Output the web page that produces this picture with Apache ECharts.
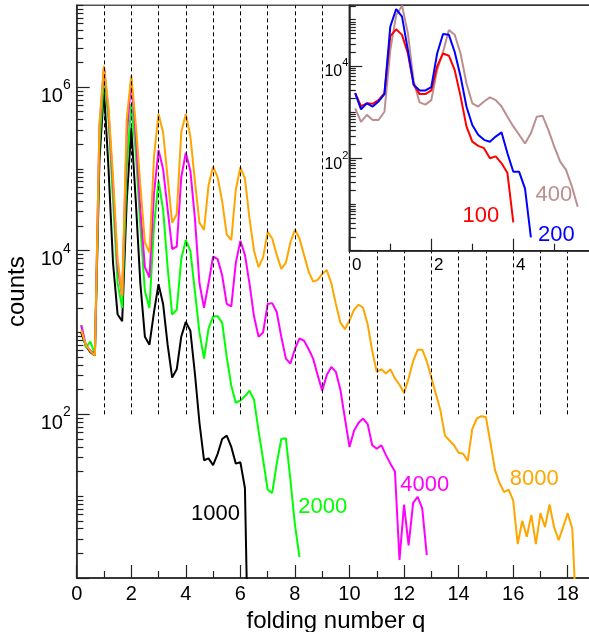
<!DOCTYPE html>
<html><head><meta charset="utf-8">
<script src="https://cdn.jsdelivr.net/npm/echarts@6/dist/echarts.min.js"></script>
<style>html,body{margin:0;padding:0;background:#fff}#c{width:589px;height:632px}</style>
</head><body><div id="c"></div>
<script>
// ---- main panel: folding number q (bins of 1/6) ----
const qMain = [
0.167,0.333,0.5,0.667,0.833,1,
1.167,1.333,1.5,1.667,1.833,2,
2.167,2.333,2.5,2.667,2.833,3,
3.167,3.333,3.5,3.667,3.833,4,
4.167,4.333,4.5,4.667,4.833,5,
5.167,5.333,5.5,5.667,5.833,6,
6.167,6.333,6.5,6.667,6.833,7,
7.167,7.333,7.5,7.667,7.833,8,
8.167,8.333,8.5,8.667,8.833,9,
9.167,9.333,9.5,9.667,9.833,10,
10.167,10.333,10.5,10.667,10.833,11,
11.167,11.333,11.5,11.667,11.833,12,
12.167,12.333,12.5,12.667,12.833,13,
13.167,13.333,13.5,13.667,13.833,14,
14.167,14.333,14.5,14.667,14.833,15,
15.167,15.333,15.5,15.667,15.833,16,
16.167,16.333,16.5,16.667,16.833,17,
17.167,17.333,17.5,17.667,17.833,18,
18.167,18.333];

const counts1000 = [1000,690,575,525,1.26e5,9.3e5,1.0e5,7000,1660,1380,4.0e4,3.2e5,
4.0e4,4000,890,710,1780,3900,2240,710,282,355,890,1350,
1050,316,79,27.5,29,24,33,50,55,40,25,26,12.6,0.016];

const counts2000 = [1230,660,776,550,2.0e5,1.32e6,4.0e5,4.0e4,4000,2000,1.0e5,6.2e5,
1.58e5,2.0e4,3200,2000,2.0e4,7.1e4,3.2e4,6300,1660,1900,7900,1.35e4,
1.0e4,3200,1000,480,1120,1580,1580,1320,500,224,138,148,
166,195,151,63,28,12,11,25,50,51,16,4.5,1.8];

const counts4000 = [1230,710,600,550,3.2e5,1.78e6,5.0e5,6.3e4,6300,2800,2.5e5,1.26e6,
2.5e5,3.2e4,6300,4700,5.0e4,1.7e5,1.0e5,3.2e4,1.05e4,1.12e4,7.9e4,1.58e5,
9.5e4,2.5e4,4000,2000,4000,8500,7900,5000,2240,2090,7100,1.32e4,
8900,4000,1580,890,1000,2240,2290,1780,890,480,417,630,
850,794,630,480,302,195,302,380,331,200,89,40,
63,79,89,76,42,38,42,32,25,20,1.66,7.9,
2.5,8.3,9.8,7.1,1.9];

const counts8000 = [1070,710,590,525,3.5e5,1.82e6,5.6e5,7.9e4,7900,2800,4.0e5,1.38e6,
3.5e5,6.3e4,1.26e4,9500,1.41e5,4.7e5,2.8e5,7.9e4,2.2e4,2.8e4,2.8e5,4.7e5,
2.5e5,7.1e4,2.2e4,1.8e4,6.3e4,1.07e5,7.9e4,4.0e4,1.58e4,1.35e4,5.6e4,1.05e5,
7.6e4,2.5e4,1.0e4,6300,8300,1.7e4,1.41e4,8900,6000,7100,1.26e4,1.82e4,
1.41e4,8900,5600,4200,4400,5200,5800,4000,2240,1320,1100,1410,
1900,2190,2000,1260,600,330,355,316,355,275,230,182,
275,447,617,617,447,282,178,112,55,48,42,34,
33,27,66,89,95,93,45,21,14.5,11.2,12,8.9,
2.6,5.0,3.2,5.9,2.6,6.2,4.2,7.9,4.2,2.9,4.2,6.2,
4.0,0.25];

// ---- inset: bins of 1/7 ----
const qInset = [0.143,0.286,0.429,0.571,0.714,0.857,1,
1.143,1.286,1.429,1.571,1.714,1.857,2,
2.143,2.286,2.429,2.571,2.714,2.857,3,
3.143,3.286,3.429,3.571,3.714,3.857,4,
4.143,4.286,4.429,4.571,4.714,4.857,5,
5.143,5.286,5.429,5.571];

const counts100 = [2570,1350,1550,1510,1820,2570,4.4e4,6.2e4,4.7e4,1.86e4,3900,2450,
2450,2950,9800,1.86e4,1.66e4,8100,2190,490,229,186,166,100,110,78,48,4.1];

const counts200 = [2570,1150,1550,1320,1700,2450,7.1e4,1.7e5,1.17e5,2.2e4,3900,2950,
2950,3470,1.86e4,4.9e4,4.7e4,2.0e4,5900,1320,525,324,251,229,295,363,129,51,51,22,1.95];

const counts400 = [1200,617,871,676,676,1020,2.2e4,1.26e5,2.0e5,5.1e4,4600,1620,
1450,1820,8100,2.0e4,6.0e4,4.7e4,1.86e4,4200,1550,1320,1700,2090,1820,1320,794,490,
324,209,347,794,832,407,178,85,56,24.5,8.9];

// ---- ticks & reference lines ----
const dashQMain = [1,2,3,4,5,6,7,8,9,10,11,12,13,14,15,16,17,18];
const dashQInset = [1,2,3,4,5];
const xMajorMain = [0,2,4,6,8,10,12,14,16,18];
const xMinorMain = [1,3,5,7,9,11,13,15,17];
const yMajorMain = [1,1e2,1e4,1e6];
const yLabelMain = [1e2,1e4,1e6];
const xMajorInset = [0,2,4];
const xMinorInset = [1,3,5];
const yMajorInset = [1,1e2,1e4];
const yLabelInset = [1e2,1e4];

function minorLog(maxExp, maxVal, majors) {
  const out = [];
  for (let e = 0; e <= maxExp; e++) {
    for (let m = 1; m <= 9; m++) {
      const v = m * Math.pow(10, e);
      if (v <= maxVal && majors.indexOf(v) < 0) out.push(v);
    }
  }
  return out;
}
const yMinorMain = minorLog(7, 1e7, yMajorMain);
const yMinorInset = minorLog(5, 2.05e5, yMajorInset);

const F = 'Liberation Sans, Arial, sans-serif';
function pairs(xs, ys) { return ys.map((y, i) => [xs[i], y]); }
function supFmt(v) { return '{b|10}{s|' + Math.round(Math.log10(v)) + '}'; }

const chart = echarts.init(document.getElementById('c'), null, {renderer: 'canvas'});

function curveLabel(text, color, coord, z) {
  return {
    symbol: 'rect', symbolSize: 1, itemStyle: {color: 'rgba(0,0,0,0)'}, silent: true, z: z,
    label: {show: true, position: 'inside', formatter: text, color: color, fontSize: 22, fontFamily: F},
    data: [{coord: coord}]
  };
}
const dashStyle = {type: [4, 3], color: '#000', width: 1};

const axisLineStyle = {color: '#222', width: 1.5};

const option = {
  animation: false,
  backgroundColor: '#fff',
  grid: [
    {left: 76.7, top: 5.3, right: -6, bottom: 54, outerBoundsMode: 'none', containLabel: false,
     show: true, borderColor: '#555', borderWidth: 1.5, backgroundColor: 'rgba(0,0,0,0)', z: 0},
    {left: 349.3, top: 5.3, right: -6.3, height: 245.4, outerBoundsMode: 'none', containLabel: false,
     show: true, borderColor: '#333', borderWidth: 1.5, backgroundColor: '#fff', z: 10}
  ],
  xAxis: [
    {gridIndex: 0, type: 'value', min: 0, max: 19, position: 'bottom',
     axisLine: {onZero: false, lineStyle: axisLineStyle},
     axisTick: {inside: true, length: 13, customValues: xMajorMain, lineStyle: {color: '#222', width: 1.2}},
     axisLabel: {customValues: xMajorMain, fontSize: 20, color: '#000', fontFamily: F, margin: 6},
     splitLine: {show: false},
     name: 'folding number q', nameLocation: 'middle', nameGap: 27,
     nameTextStyle: {fontSize: 24, color: '#000', fontFamily: F}},
    {gridIndex: 0, type: 'value', min: 0, max: 19, position: 'bottom',
     axisLine: {show: false, onZero: false},
     axisTick: {inside: true, length: 7, customValues: xMinorMain, lineStyle: {color: '#222', width: 1.2}},
     axisLabel: {show: false}, splitLine: {show: false}},
    {gridIndex: 1, type: 'value', min: 0, max: 6, position: 'bottom', z: 11,
     axisLine: {onZero: false, lineStyle: axisLineStyle},
     axisTick: {inside: true, length: 12, customValues: xMajorInset, lineStyle: {color: '#222', width: 1.2}},
     axisLabel: {customValues: xMajorInset, fontSize: 17, color: '#000', fontFamily: F, margin: 6, padding: [0, 0, 0, 15]},
     splitLine: {show: false}},
    {gridIndex: 1, type: 'value', min: 0, max: 6, position: 'bottom', z: 11,
     axisLine: {show: false, onZero: false},
     axisTick: {inside: true, length: 7, customValues: xMinorInset, lineStyle: {color: '#222', width: 1.2}},
     axisLabel: {show: false}, splitLine: {show: false}}
  ],
  yAxis: [
    {gridIndex: 0, type: 'log', logBase: 10, min: 1, max: 1e7, position: 'left',
     axisLine: {onZero: false, lineStyle: axisLineStyle},
     axisTick: {inside: true, length: 13, customValues: yMajorMain, lineStyle: {color: '#222', width: 1.2}},
     axisLabel: {customValues: yLabelMain, formatter: supFmt, margin: 6, padding: [10, 0, 0, 0],
       rich: {b: {fontSize: 20, color: '#000', fontFamily: F, verticalAlign: 'bottom'},
              s: {fontSize: 14, color: '#000', fontFamily: F, verticalAlign: 'bottom', padding: [0, 0, 14, 0]}}},
     splitLine: {show: false},
     name: 'counts', nameLocation: 'middle', nameGap: 43, nameRotate: 90,
     nameTextStyle: {fontSize: 24, color: '#000', fontFamily: F}},
    {gridIndex: 0, type: 'log', logBase: 10, min: 1, max: 1e7, position: 'left',
     axisLine: {show: false, onZero: false},
     axisTick: {inside: true, length: 6.7, customValues: yMinorMain, lineStyle: {color: '#222', width: 1.2}},
     axisLabel: {show: false}, splitLine: {show: false}},
    {gridIndex: 1, type: 'log', logBase: 10, min: 1, max: 2.05e5, position: 'left', z: 11,
     axisLine: {onZero: false, lineStyle: axisLineStyle},
     axisTick: {inside: true, length: 13, customValues: yMajorInset, lineStyle: {color: '#222', width: 1.2}},
     axisLabel: {customValues: yLabelInset, formatter: supFmt, margin: 1, padding: [6, 0, 0, 0],
       rich: {b: {fontSize: 16, color: '#000', fontFamily: F, verticalAlign: 'bottom'},
              s: {fontSize: 11, color: '#000', fontFamily: F, verticalAlign: 'bottom', padding: [0, 0, 11, 0]}}},
     splitLine: {show: false}},
    {gridIndex: 1, type: 'log', logBase: 10, min: 1, max: 2.05e5, position: 'left', z: 11,
     axisLine: {show: false, onZero: false},
     axisTick: {inside: true, length: 6.5, customValues: yMinorInset, lineStyle: {color: '#222', width: 1.2}},
     axisLabel: {show: false}, splitLine: {show: false}}
  ],
  series: [
    {name: '1000', type: 'line', xAxisIndex: 0, yAxisIndex: 0, z: 2, symbol: 'none', clip: true,
     data: pairs(qMain, counts1000), lineStyle: {color: '#000', width: 2},
     markLine: {silent: true, symbol: ['none', 'none'], label: {show: false}, lineStyle: dashStyle,
       data: dashQMain.map(q => [{coord: [q, 100]}, {coord: [q, 1e7]}])},
     markPoint: curveLabel('1000', '#000', [5.09, 6.1], 3)},
    {name: '2000', type: 'line', xAxisIndex: 0, yAxisIndex: 0, z: 2, symbol: 'none', clip: true,
     data: pairs(qMain, counts2000), lineStyle: {color: '#00ff00', width: 2},
     markPoint: curveLabel('2000', '#00ff00', [9.02, 7.3], 3)},
    {name: '4000', type: 'line', xAxisIndex: 0, yAxisIndex: 0, z: 2, symbol: 'none', clip: true,
     data: pairs(qMain, counts4000), lineStyle: {color: '#ff00ff', width: 2},
     markPoint: curveLabel('4000', '#ff00ff', [12.76, 13.7], 3)},
    {name: '8000', type: 'line', xAxisIndex: 0, yAxisIndex: 0, z: 2, symbol: 'none', clip: true,
     data: pairs(qMain, counts8000), lineStyle: {color: '#ffa500', width: 2},
     markPoint: curveLabel('8000', '#ffa500', [16.77, 16.2], 3)},
    {name: '400', type: 'line', xAxisIndex: 2, yAxisIndex: 2, z: 12, symbol: 'none', clip: true,
     data: pairs(qInset, counts400), lineStyle: {color: '#bc8f8f', width: 2},
     markLine: {silent: true, symbol: ['none', 'none'], label: {show: false}, lineStyle: dashStyle,
       data: dashQInset.map(q => [{coord: [q, 100]}, {coord: [q, 2.05e5]}])},
     markPoint: curveLabel('400', '#bc8f8f', [4.99, 16.3], 13)},
    {name: '100', type: 'line', xAxisIndex: 2, yAxisIndex: 2, z: 12, symbol: 'none', clip: true,
     data: pairs(qInset, counts100), lineStyle: {color: '#ff0000', width: 2},
     markPoint: curveLabel('100', '#ff0000', [3.21, 5.6], 13)},
    {name: '200', type: 'line', xAxisIndex: 2, yAxisIndex: 2, z: 12, symbol: 'none', clip: true,
     data: pairs(qInset, counts200), lineStyle: {color: '#0000ff', width: 2},
     markPoint: curveLabel('200', '#0000ff', [5.05, 2.19], 13)}
  ]
};
chart.setOption(option);
</script></body></html>
